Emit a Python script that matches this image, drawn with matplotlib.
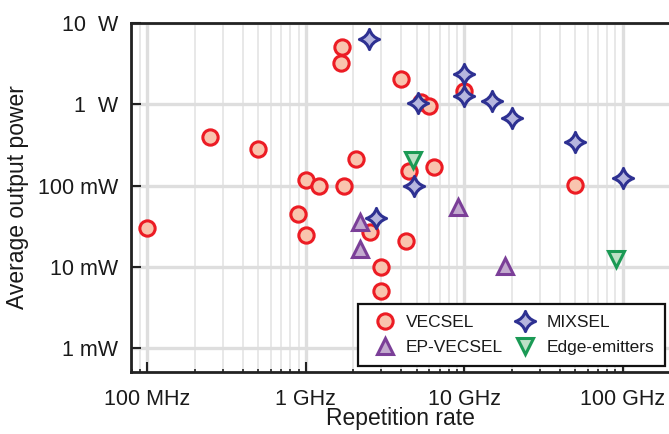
import matplotlib
matplotlib.use("Agg")
import matplotlib.pyplot as plt
from matplotlib.path import Path
from matplotlib.ticker import FixedLocator, LogLocator, NullFormatter
import numpy as np

plt.rcParams['font.family'] = ['Liberation Sans', 'DejaVu Sans']

# Repetition rate in GHz, average output power in W
vecsel_rate = [0.1, 0.25, 0.5, 1.0, 1.21, 1.74, 2.07, 1.70, 1.66, 3.98, 0.894, 1.0,
               2.56, 3.0, 3.0, 4.32, 5.37, 5.99, 10.0, 4.49, 6.49, 50.0]
vecsel_power = [0.030, 0.395, 0.28, 0.117, 0.099, 0.099, 0.212, 5.0, 3.25, 2.07, 0.0446, 0.025,
                0.027, 0.010, 0.0050, 0.021, 1.08, 0.945, 1.47, 0.151, 0.17, 0.101]

ep_rate = [2.19, 2.19, 9.15, 18.2]
ep_power = [0.0358, 0.0165, 0.0548, 0.0104]

mixsel_rate = [2.49, 5.1, 10.0, 10.0, 14.9, 20.0, 50.0, 100.0, 4.8, 2.79]
mixsel_power = [6.37, 1.03, 2.36, 1.28, 1.11, 0.684, 0.347, 0.125, 0.0995, 0.040]

edge_rate = [4.75, 91.2]
edge_power = [0.206, 0.0124]

x_ticks = [0.1, 1, 10, 100]
x_labels = ["100 MHz", "1 GHz", "10 GHz", "100 GHz"]
y_ticks = [0.001, 0.01, 0.1, 1, 10]
y_labels = ["1 mW", "10 mW", "100 mW", "1  W", "10  W"]

# four-pointed star with concave sides
c = 0.24
star = Path(
    [(0, 1), (c, c), (1, 0), (c, -c), (0, -1), (-c, -c), (-1, 0), (-c, c), (0, 1), (0, 1)],
    [Path.MOVETO, Path.CURVE3, Path.CURVE3, Path.CURVE3, Path.CURVE3,
     Path.CURVE3, Path.CURVE3, Path.CURVE3, Path.CURVE3, Path.CLOSEPOLY])

fig = plt.figure(figsize=(6.69, 4.34), dpi=100)
ax = fig.add_axes([131 / 669, 62 / 434, 538 / 669, 349 / 434])
ax.set_xscale('log')
ax.set_yscale('log')
ax.set_xlim(0.0789, 196)
ax.set_ylim(5.1e-4, 10)

ax.set_axisbelow(True)
ax.xaxis.set_minor_locator(LogLocator(base=10, subs=np.arange(2, 10)))
ax.yaxis.set_minor_locator(FixedLocator([]))
ax.grid(True, which='major', color='#dedede', lw=2.4)
ax.grid(True, which='minor', axis='x', color='#e2e2e2', lw=1.1)

ax.plot(vecsel_rate, vecsel_power, ls='none', marker='o', ms=11, mew=2.2,
        mec='#ec1c24', mfc='#f9c4ae', label='VECSEL', zorder=3)
ax.plot(mixsel_rate, mixsel_power, ls='none', marker=star, ms=14.5, mew=2.2,
        mec='#2e3192', mfc='#b6b6de', label='MIXSEL', zorder=4)
ax.plot(ep_rate, ep_power, ls='none', marker='^', ms=12, mew=2.2,
        mec='#7b3f98', mfc='#c3abcf', label='EP-VECSEL', zorder=4)
ax.plot(edge_rate, edge_power, ls='none', marker='v', ms=12, mew=2.2,
        mec='#1b9a55', mfc='#bde0c6', label='Edge-emitters', zorder=4)

ax.set_xticks(x_ticks)
ax.set_xticklabels(x_labels)
ax.xaxis.set_minor_formatter(NullFormatter())
ax.set_yticks(y_ticks)
ax.set_yticklabels(y_labels)

ax.tick_params(axis='both', which='major', direction='in', length=7, width=1.5,
               labelsize=15.5, color='#222222', labelcolor='#1a1a1a')
ax.tick_params(axis='x', which='minor', direction='in', length=2.5, width=1.2,
               color='#222222')
ax.tick_params(axis='x', which='major', pad=12.5)
ax.tick_params(axis='y', which='major', pad=9)

for side in ['left', 'bottom', 'top']:
    ax.spines[side].set_linewidth(2)
    ax.spines[side].set_color('#222222')
ax.spines['right'].set_visible(False)

ax.set_xlabel('Repetition rate', fontsize=16.5, color='#1a1a1a')
ax.set_ylabel('Average output power', fontsize=16.5, color='#1a1a1a')
ax.xaxis.set_label_coords(0.5, -0.101)
ax.yaxis.set_label_coords(-0.19, 0.5)

handles, labels = ax.get_legend_handles_labels()
order = [0, 2, 1, 3]
leg = ax.legend([handles[i] for i in order], [labels[i] for i in order],
                ncol=2, loc='lower right', bbox_to_anchor=(0.993, 0.017),
                borderaxespad=0, fontsize=12.5, frameon=True, fancybox=False,
                framealpha=1, edgecolor='#111111', borderpad=0.65,
                handletextpad=0.3, columnspacing=0.4, labelspacing=0.55,
                handlelength=1.8, markerscale=1.0)
leg.get_frame().set_linewidth(1.6)
for t in leg.get_texts():
    t.set_color('#1a1a1a')

fig.savefig('out.png', dpi=100)
